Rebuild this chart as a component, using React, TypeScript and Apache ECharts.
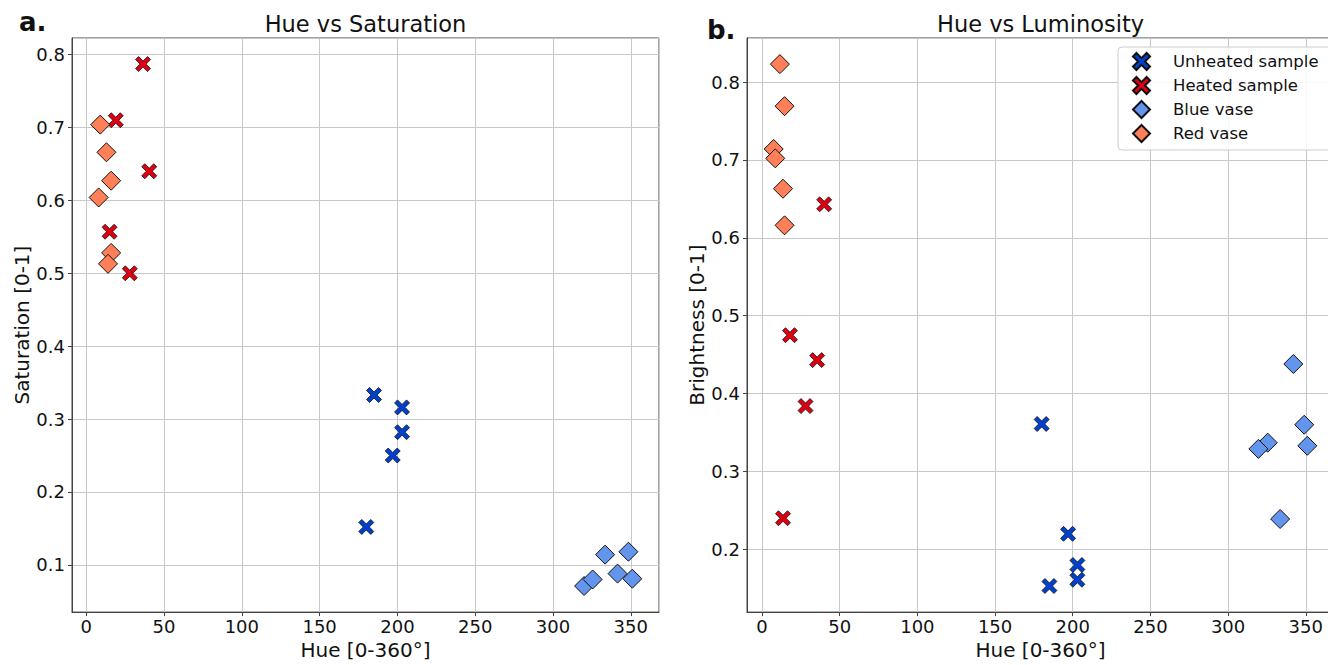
import React, { useEffect, useRef } from 'react';
import * as echarts from 'echarts';

// ---------- data ----------
const seriesNames = ['Unheated sample', 'Heated sample', 'Blue vase', 'Red vase'];

// Panel a: Hue vs Saturation  [hue, saturation]
const unheatedSat = [[185, 0.333], [203, 0.316], [203, 0.282], [197, 0.25], [180, 0.152]];
const heatedSat = [[36.5, 0.787], [19, 0.71], [40.5, 0.64], [15, 0.557], [28, 0.5]];
const blueVaseSat = [[320, 0.071], [325.5, 0.08], [333.5, 0.114], [341.5, 0.088], [348.5, 0.118], [351, 0.081]];
const redVaseSat = [[9, 0.704], [13, 0.666], [16, 0.627], [8, 0.604], [16, 0.528], [14, 0.513]];

// Panel b: Hue vs Luminosity  [hue, brightness]
const unheatedLum = [[180, 0.361], [197, 0.22], [203, 0.18], [203, 0.161], [185, 0.153]];
const heatedLum = [[40, 0.643], [18, 0.475], [35.5, 0.443], [28, 0.384], [13.5, 0.24]];
const blueVaseLum = [[342, 0.438], [349, 0.36], [351, 0.333], [325.5, 0.337], [319.5, 0.329], [333.5, 0.239]];
const redVaseLum = [[11.5, 0.823], [14.5, 0.769], [7.5, 0.714], [8.5, 0.702], [13.5, 0.663], [14.5, 0.616]];

const panelTitles = ['Hue vs Saturation', 'Hue vs Luminosity'];
const panelLetters = ['a.', 'b.'];
const xAxisName = 'Hue [0-360°]';
const yAxisNames = ['Saturation [0-1]', 'Brightness [0-1]'];

// ---------- styles ----------
const FONT = '"DejaVu Sans", "Liberation Sans", sans-serif';
const COLORS = ['#0040cc', '#dd0010', '#6495ed', '#ff7f58'];
const X_PATH = 'path://M2,0L5,3L8,0L10,2L7,5L10,8L8,10L5,7L2,10L0,8L3,5L0,2Z';

function paddedRange(sets: number[][][], idx: number): [number, number] {
  let mn = Infinity;
  let mx = -Infinity;
  sets.forEach((s) => s.forEach((p) => { mn = Math.min(mn, p[idx]); mx = Math.max(mx, p[idx]); }));
  const pad = (mx - mn) * 0.05;
  return [mn - pad, mx + pad];
}

export default function App() {
  const ref = useRef<HTMLDivElement>(null);

  useEffect(() => {
    if (!ref.current) return;
    const chart = echarts.init(ref.current, undefined, { renderer: 'svg' });

    const panels = [
      [unheatedSat, heatedSat, blueVaseSat, redVaseSat],
      [unheatedLum, heatedLum, blueVaseLum, redVaseLum],
    ];

    const grids = [
      { left: 72, top: 38, width: 587, height: 582 },
      { left: 747, top: 38, width: 587, height: 582 },
    ];

    const xAxes = panels.map((sets, i) => {
      const [mn, mx] = paddedRange(sets, 0);
      return {
        type: 'value',
        gridIndex: i,
        min: mn,
        max: mx,
        splitNumber: 7,
        minInterval: 50,
        maxInterval: 50,
        axisLine: { show: true, onZero: false, lineStyle: { color: '#444', width: 1 } },
        axisTick: { show: true, length: 4, lineStyle: { color: '#444' } },
        axisLabel: { showMinLabel: false, showMaxLabel: false, fontSize: 18, fontFamily: FONT, color: '#111', margin: 5 },
        splitLine: { show: true, lineStyle: { color: '#c8c8c8', width: 1 } },
        name: xAxisName,
        nameLocation: 'middle',
        nameGap: 25,
        nameTextStyle: { fontSize: 20, fontFamily: FONT, color: '#111' },
      };
    });

    const yAxes = panels.map((sets, i) => {
      const [mn, mx] = paddedRange(sets, 1);
      return {
        type: 'value',
        gridIndex: i,
        min: mn,
        max: mx,
        splitNumber: 8,
        minInterval: 0.1,
        maxInterval: 0.1,
        axisLine: { show: true, onZero: false, lineStyle: { color: '#444', width: 1 } },
        axisTick: { show: true, length: 4, lineStyle: { color: '#444' } },
        axisLabel: { showMinLabel: false, showMaxLabel: false, fontSize: 18, fontFamily: FONT, color: '#111', margin: 7 },
        splitLine: { show: true, lineStyle: { color: '#c8c8c8', width: 1 } },
        name: yAxisNames[i],
        nameLocation: 'middle',
        nameGap: 40,
        nameTextStyle: { fontSize: 20, fontFamily: FONT, color: '#111' },
      };
    });

    const series: any[] = [];
    panels.forEach((sets, pi) => {
      sets.forEach((data, si) => {
        const isX = si < 2;
        series.push({
          type: 'scatter',
          name: seriesNames[si],
          xAxisIndex: pi,
          yAxisIndex: pi,
          data,
          symbol: isX ? X_PATH : 'diamond',
          symbolSize: isX ? 15 : 19,
          itemStyle: { color: COLORS[si], borderColor: '#111', borderWidth: isX ? 0.8 : 1, opacity: 1 },
          emphasis: { disabled: true },
          z: 2 + si,
        });
      });
    });

    const graphics: any[] = [
      { type: 'text', x: 365.5, y: 24, style: { text: panelTitles[0], font: `22.5px ${FONT}`, fill: '#111', align: 'center', verticalAlign: 'middle' } },
      { type: 'text', x: 1040.5, y: 24, style: { text: panelTitles[1], font: `22.5px ${FONT}`, fill: '#111', align: 'center', verticalAlign: 'middle' } },
      { type: 'text', x: 19, y: 22, style: { text: panelLetters[0], font: `bold 26px ${FONT}`, fill: '#111', align: 'left', verticalAlign: 'middle' } },
      { type: 'text', x: 707, y: 30, style: { text: panelLetters[1], font: `bold 26px ${FONT}`, fill: '#111', align: 'left', verticalAlign: 'middle' } },
    ];

    chart.setOption({
      animation: false,
      backgroundColor: '#ffffff',
      grid: grids.map((g) => ({ ...g, show: true, borderColor: '#444', borderWidth: 1, backgroundColor: 'transparent', containLabel: false })),
      xAxis: xAxes,
      yAxis: yAxes,
      legend: {
        show: true,
        orient: 'vertical',
        left: 1118,
        top: 47,
        itemWidth: 17,
        itemHeight: 17,
        itemGap: 5,
        padding: [5, 20, 7, 14],
        borderColor: '#cccccc',
        borderWidth: 1,
        borderRadius: 4,
        backgroundColor: 'rgba(255,255,255,0.85)',
        selectedMode: false,
        textStyle: { fontSize: 16.5, fontFamily: FONT, color: '#111', padding: [0, 0, 0, 18] },
        data: seriesNames,
      },
      graphic: graphics,
      series,
    });

    return () => chart.dispose();
  }, []);

  return (
    <div style={{ position: 'fixed', left: 0, top: 0, width: 1328, height: 665, overflow: 'hidden', background: '#fff' }}>
      <div ref={ref} style={{ width: 1345, height: 665 }} />
    </div>
  );
}
